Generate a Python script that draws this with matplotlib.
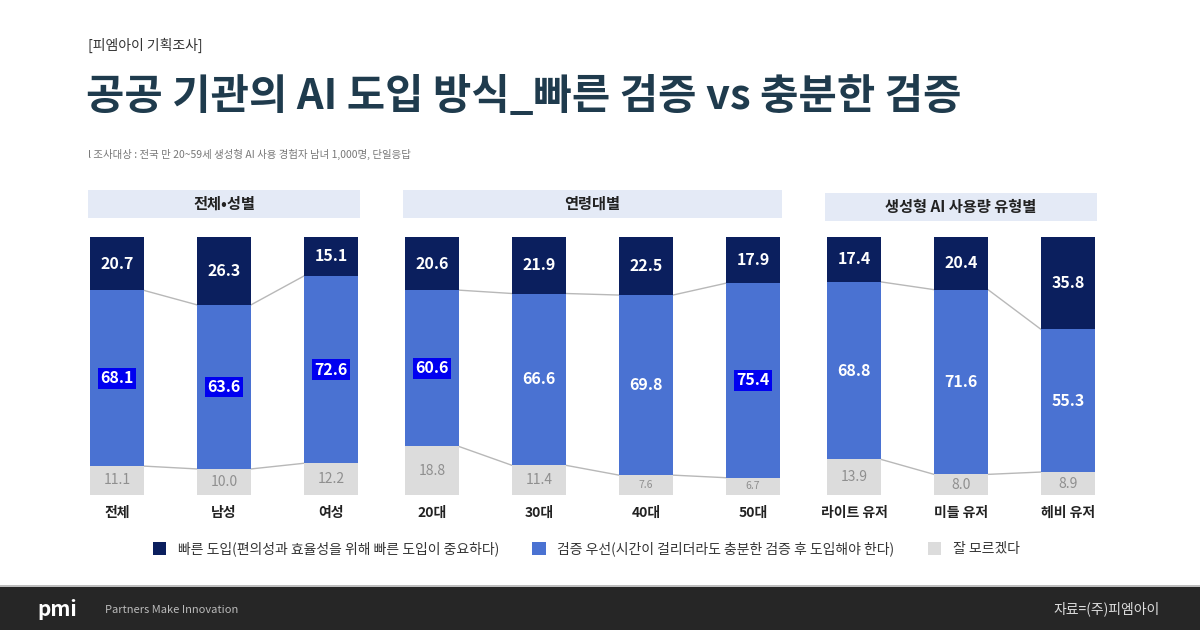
import matplotlib.pyplot as plt
from matplotlib.patches import Rectangle

plt.rcParams['font.family'] = ['Noto Sans CJK KR', 'DejaVu Sans']

# data (%)
cats_total = ['전체', '남성', '여성']
fast_total = [20.7, 26.3, 15.1]
verify_total = [68.1, 63.6, 72.6]
unsure_total = [11.1, 10.0, 12.2]

cats_age = ['20대', '30대', '40대', '50대']
fast_age = [20.6, 21.9, 22.5, 17.9]
verify_age = [60.6, 66.6, 69.8, 75.4]
unsure_age = [18.8, 11.4, 7.6, 6.7]

cats_usage = ['라이트 유저', '미들 유저', '헤비 유저']
fast_usage = [17.4, 20.4, 35.8]
verify_usage = [68.8, 71.6, 55.3]
unsure_usage = [13.9, 8.0, 8.9]

group_titles = ['전체•성별', '연령대별', '생성형 AI 사용량 유형별']
legend_labels = ['빠른 도입(편의성과 효율성을 위해 빠른 도입이 중요하다)',
                 '검증 우선(시간이 걸리더라도 충분한 검증 후 도입해야 한다)',
                 '잘 모르겠다']
# blue labels that carry a highlight box in the original
highlight = {'전체', '남성', '여성', '20대', '50대'}

NAVY = '#0b1f5e'
BLUE = '#4a72d2'
GRAY = '#dcdcdc'
LINE = '#b8b8b8'

W, H = 1200, 630
fig = plt.figure(figsize=(12, 6.3), dpi=100)
fig.patch.set_facecolor('white')


def px_axes(left, top, width, height):
    return fig.add_axes([left / W, 1 - (top + height) / H, width / W, height / H])


def fig_rect(left, top, width, height, color):
    fig.patches.append(Rectangle((left / W, 1 - (top + height) / H), width / W, height / H,
                                 transform=fig.transFigure, facecolor=color,
                                 edgecolor='none', zorder=0))


# header texts
fig.text(88 / W, 1 - 45 / H, '[피엠아이 기획조사]', fontsize=10, color='#333333', va='center')
fig.text(86 / W, 1 - 97 / H, '공공 기관의 AI 도입 방식_빠른 검증 vs 충분한 검증',
         fontsize=30, fontweight='bold', color='#1f3b4d', va='center')
fig.text(88 / W, 1 - 154 / H, 'l 조사대상 : 전국 만 20~59세 생성형 AI 사용 경험자 남녀 1,000명, 단일응답',
         fontsize=7.5, color='#777777', va='center')

groups = [
    (cats_total, fast_total, verify_total, unsure_total, 90, 190),
    (cats_age, fast_age, verify_age, unsure_age, 405, 190),
    (cats_usage, fast_usage, verify_usage, unsure_usage, 827, 193),
]

spacing = 107
bar_px = 54
bw = bar_px / spacing
bars = []
for gi, (cats, fast, verify, unsure, left, htop) in enumerate(groups):
    n = len(cats)
    span = (n - 1) * spacing + bar_px
    # group header box
    fig_rect(left - 2, htop, span + 4, 28, '#e4eaf6')
    fig.text((left + span / 2) / W, 1 - (htop + 14) / H, group_titles[gi],
             fontsize=11, fontweight='bold', color='#222222', ha='center', va='center')

    ax = px_axes(left, 237, span, 258)
    x = list(range(n))
    mid = [f + v for f, v in zip(fast, verify)]
    b1 = ax.bar(x, fast, width=bw, color=NAVY, zorder=3)
    b2 = ax.bar(x, verify, width=bw, bottom=fast, color=BLUE, zorder=3)
    b3 = ax.bar(x, unsure, width=bw, bottom=mid, color=GRAY, zorder=3)
    bars = [b1, b2, b3]

    # connector lines between adjacent bars
    for i in range(n - 1):
        ax.plot([i + bw / 2, i + 1 - bw / 2], [fast[i], fast[i + 1]], color=LINE, lw=1, zorder=1)
        ax.plot([i + bw / 2, i + 1 - bw / 2], [mid[i], mid[i + 1]], color=LINE, lw=1, zorder=1)

    for i in range(n):
        ax.text(i, fast[i] / 2, f'{fast[i]:.1f}', ha='center', va='center',
                color='white', fontsize=11.5, fontweight='bold', zorder=4)
        box = None
        if cats[i] in highlight:
            box = dict(boxstyle='square,pad=0.15', facecolor='#0000f0', edgecolor='none')
        ax.text(i, fast[i] + verify[i] / 2, f'{verify[i]:.1f}', ha='center', va='center',
                color='white', fontsize=11.5, fontweight='bold', bbox=box, zorder=4)
        fs = 10 if unsure[i] >= 8 else 7.5
        ax.text(i, mid[i] + unsure[i] / 2, f'{unsure[i]:.1f}', ha='center', va='center',
                color='#8f8f8f', fontsize=fs, zorder=4)

    ax.set_xlim(-bw / 2, n - 1 + bw / 2)
    ax.set_ylim(100, 0)
    ax.set_xticks(x)
    ax.set_xticklabels(cats, fontsize=10, fontweight='bold', color='#222222')
    ax.tick_params(axis='x', length=0, pad=8)
    ax.set_yticks([])
    for s in ax.spines.values():
        s.set_visible(False)
    ax.patch.set_alpha(0)

# legend
leg = fig.legend(bars, legend_labels, loc='center', bbox_to_anchor=(586 / W, 1 - 549 / H),
                 ncol=3, frameon=False, fontsize=10, handlelength=1.0, handleheight=1.0,
                 handletextpad=0.8, columnspacing=2.4)
for t in leg.get_texts():
    t.set_color('#333333')

# footer
fig_rect(0, 585, W, 2, '#bdbdbd')
fig_rect(0, 587, W, 43, '#262626')
fig.text(37 / W, 1 - 609 / H, 'pmi', fontsize=15, fontweight='bold', color='white', va='center')
fig.text(105 / W, 1 - 610 / H, 'Partners Make Innovation', fontsize=8, color='#bbbbbb', va='center')
fig.text(1160 / W, 1 - 609 / H, '자료=(주)피엠아이', fontsize=10, color='#dddddd',
         ha='right', va='center')

fig.savefig('out.png', dpi=100)
